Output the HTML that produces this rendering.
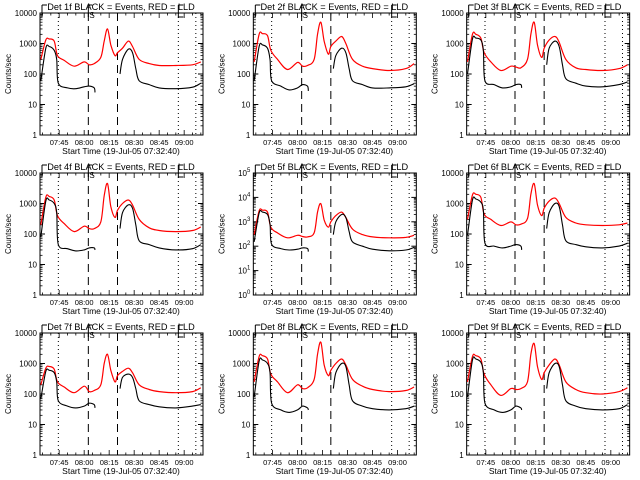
<!DOCTYPE html>
<html><head><meta charset="utf-8"><style>
body{margin:0;background:#fff;}
svg{display:block;}
text{font-family:"Liberation Sans",sans-serif;fill:#000;}
</style></head><body>
<svg id="chart" width="640" height="480" viewBox="0 0 640 480" xmlns="http://www.w3.org/2000/svg">
<rect width="640" height="480" fill="#fff"/>
</svg>
<script>
// shared time grids (minutes since 07:45)
const redTimes = [-11,-8,-6,-3,-1,3,9,15,18,21,25,27,29,31,33.5,35,38,41.5,44,48,54,60,70,80,85];
const blackTimes1 = [-11,-8,-6,-3,-1.5,-0.5,5,10,15,18,21,21.5];
const blackTimes2 = [36.5,38,41.5,44,46,48,54,60,70,80,85];
const tickLabels = ["07:45","08:00","08:15","08:30","08:45","09:00"];
const tickTimes = [0,15,30,45,60,75];
const markerTimes = [-0.5,17.5,35];
const dottedTimes = [-0.5,71.5,82];
const dashedTimes = [17.5,35];
const detectors = ["1f","2f","3f","4f","5f","6f","7f","8f","9f"];
const red1=[300,1300,1400,1200,400,280,180,250,200,220,350,1200,3000,900,400,500,700,1200,800,300,220,190,190,200,250];
const red2=[250,2000,2100,1800,600,300,140,240,180,190,300,2000,5000,1200,450,800,1200,1700,1000,300,180,150,130,150,220];
const red3=[250,2000,2000,1500,500,250,130,180,170,160,300,2000,5000,900,350,700,1300,1700,1100,300,160,140,130,150,200];
const red4=[200,1600,1700,1300,400,220,120,180,150,150,250,1800,4500,800,350,600,1000,1300,900,300,160,130,120,130,170];
const red5=[300,2800,3000,2500,600,350,220,280,250,240,350,2500,5500,1200,600,1000,1800,2500,1500,500,300,240,220,230,280];
const red6=[300,1900,2000,1600,450,300,190,250,200,210,320,2000,4500,900,400,700,1200,1500,1000,350,230,200,190,200,230];
const red7=[200,700,800,650,250,170,110,180,120,130,200,1000,2000,600,250,400,550,700,500,200,140,120,110,120,160];
const red8=[250,1700,1800,1400,450,250,110,200,150,160,300,2000,5000,900,400,600,1000,1400,900,300,180,140,120,130,170];
const red9=[250,1700,1800,1400,450,200,90,150,140,150,250,2000,4500,800,300,500,900,1400,900,250,140,110,100,120,160];
const blackA1=[60,700,800,600,300,50,35,33,38,40,35,25];
const blackA2=[60,800,900,700,300,60,40,30,35,45,40,28];
const blackA3=[100,1400,1500,1300,600,60,45,35,38,45,45,35];
const blackA4=[80,1200,1300,1000,500,45,33,28,30,35,35,30];
const blackA5=[150,2300,2500,2000,800,120,80,70,75,85,80,60];
const blackA6=[90,1300,1400,1100,600,50,40,35,40,45,40,30];
const blackA7=[70,550,600,500,250,60,40,35,40,50,45,35];
const blackA8=[80,1200,1300,1000,500,50,30,25,30,40,35,30];
const blackA9=[80,1300,1400,1100,500,50,30,25,30,40,35,30];
const blackB1=[100,300,650,500,150,60,45,35,33,37,50];
const blackB2=[150,400,700,500,150,60,45,35,35,38,48];
const blackB3=[200,700,1200,800,200,70,50,40,38,45,55];
const blackB4=[150,500,900,700,200,60,45,35,30,33,45];
const blackB5=[300,1000,2000,1500,400,150,100,75,65,70,90];
const blackB6=[150,500,1000,800,200,60,45,38,35,40,50];
const blackB7=[150,350,450,350,150,60,45,38,35,40,45];
const blackB8=[150,500,1000,800,200,60,40,33,30,33,40];
const blackB9=[150,500,1000,800,200,60,40,33,30,33,45];
const redSeries=[red1,red2,red3,red4,red5,red6,red7,red8,red9];
const blackSeriesA=[blackA1,blackA2,blackA3,blackA4,blackA5,blackA6,blackA7,blackA8,blackA9];
const blackSeriesB=[blackB1,blackB2,blackB3,blackB4,blackB5,blackB6,blackB7,blackB8,blackB9];
const decadesTop=[4,4,4,4,5,4,4,4,4];

const NS="http://www.w3.org/2000/svg";
const svg=document.getElementById('chart');
function mk(tag,attrs,parent){const e=document.createElementNS(NS,tag);for(const k in attrs)e.setAttribute(k,attrs[k]);parent.appendChild(e);return e;}
const L=40,R=203,T=13,B=135;
const T0=-11.5, T1=86.3;
function xs(t){return L+(t-T0)/(T1-T0)*(R-L);}
function smooth(pts){
  let d='M'+pts[0][0].toFixed(1)+' '+pts[0][1].toFixed(1);
  for(let i=0;i<pts.length-1;i++){
    const p0=pts[Math.max(i-1,0)],p1=pts[i],p2=pts[i+1],p3=pts[Math.min(i+2,pts.length-1)];
    const c1=[p1[0]+(p2[0]-p0[0])/6,p1[1]+(p2[1]-p0[1])/6];
    const c2=[p2[0]-(p3[0]-p1[0])/6,p2[1]-(p3[1]-p1[1])/6];
    d+=` C${c1[0].toFixed(1)} ${c1[1].toFixed(1)} ${c2[0].toFixed(1)} ${c2[1].toFixed(1)} ${p2[0].toFixed(1)} ${p2[1].toFixed(1)}`;
  }
  return d;
}

for(let p=0;p<9;p++){
  const col=p%3,row=Math.floor(p/3);
  const g=mk('g',{transform:`translate(${(col*213.33).toFixed(2)},${row*160})`},svg);
  
  
  const dmax=decadesTop[p];
  const ys=v=>B-Math.log10(Math.max(v,1))/dmax*(B-T);
  const ti=mk('text',{x:121,y:10,'font-size':'9.2','text-anchor':'middle'},g);
  ti.textContent='Det '+detectors[p]+' BLACK = Events, RED = LLD';
  
  
  const box=mk('rect',{x:L,y:T,width:R-L,height:B-T,fill:'none',stroke:'#000','stroke-width':1},g);
  
  
  for(let d=0;d<=dmax;d++){
    const y=ys(Math.pow(10,d));
    mk('line',{x1:L,x2:L+5,y1:y,y2:y,stroke:'#000'},g);
    mk('line',{x1:R,x2:R-5,y1:y,y2:y,stroke:'#000'},g);
    const lab=mk('text',{x:L-3,y:y+3,'font-size':'8','text-anchor':'end'},g);
    
    
    if(dmax===5){
      lab.textContent='10';
      const sp=mk('tspan',{dy:-4,'font-size':'6'},lab);sp.textContent=String(d);
    } else lab.textContent=String(Math.pow(10,d));
    if(d<dmax){for(let m=2;m<10;m++){const ym=ys(m*Math.pow(10,d));
      mk('line',{x1:L,x2:L+2.5,y1:ym,y2:ym,stroke:'#000','stroke-width':0.8},g);
      mk('line',{x1:R,x2:R-2.5,y1:ym,y2:ym,stroke:'#000','stroke-width':0.8},g);}}
  }
  const yl=mk('text',{x:0,y:0,'font-size':'8','text-anchor':'middle',transform:`translate(11,${(T+B)/2}) rotate(-90)`},g);
  yl.textContent='Counts/sec';
  
  
  for(let t=-10;t<=85;t+=5){const x=xs(t);const major=tickTimes.includes(t);const len=major?5:2.5;
    mk('line',{x1:x,x2:x,y1:B,y2:B-len,stroke:'#000','stroke-width':0.8},g);
    mk('line',{x1:x,x2:x,y1:T,y2:T+len,stroke:'#000','stroke-width':0.8},g);}
  for(let i=0;i<tickLabels.length;i++){
    const tl=mk('text',{x:xs(tickTimes[i]),y:145,'font-size':'7.5','text-anchor':'middle'},g);
    tl.textContent=tickLabels[i];
    
    
  }
  const xl=mk('text',{x:121,y:154,'font-size':'8.5','text-anchor':'middle'},g);
  xl.textContent='Start Time (19-Jul-05 07:32:40)';
  
  
  for(const t of dottedTimes){const l=mk('line',{x1:xs(t),x2:xs(t),y1:T,y2:B,stroke:'#000','stroke-width':1,'stroke-dasharray':'1,3'},g);
    
    }
  for(const t of dashedTimes){const l=mk('line',{x1:xs(t),x2:xs(t),y1:T,y2:B,stroke:'#000','stroke-width':1,'stroke-dasharray':'8,5'},g);
    
    }
  const mx=[L+2,xs(markerTimes[1]),xs(71.5)];
  mk('path',{d:`M${mx[0]} 5V17 M${mx[0]} 5H${mx[0]+5}`,stroke:'#000',fill:'none'},g);
  mk('path',{d:`M${mx[1]} 5V17 M${mx[1]} 5H${mx[1]+4}`,stroke:'#000',fill:'none'},g);
  const st=mk('text',{x:mx[1]+1,y:18,'font-size':'8'},g);st.textContent='S';
  mk('path',{d:`M${mx[2]} 5V17H${mx[2]+5} M${mx[2]} 5H${mx[2]+5}`,stroke:'#000',fill:'none'},g);
  const pts=(ts,vs)=>ts.map((t,i)=>[xs(t),ys(vs[i])]);
  const rp=mk('path',{d:smooth(pts(redTimes,redSeries[p])),stroke:'#ff0000',fill:'none','stroke-width':1.2,'stroke-linejoin':'round'},g);
  
  
  const b1=mk('path',{d:smooth(pts(blackTimes1,blackSeriesA[p])),stroke:'#000',fill:'none','stroke-width':1.1},g);
  
  
  const b2=mk('path',{d:smooth(pts(blackTimes2,blackSeriesB[p])),stroke:'#000',fill:'none','stroke-width':1.1},g);
  
  
}
</script>
</body></html>
